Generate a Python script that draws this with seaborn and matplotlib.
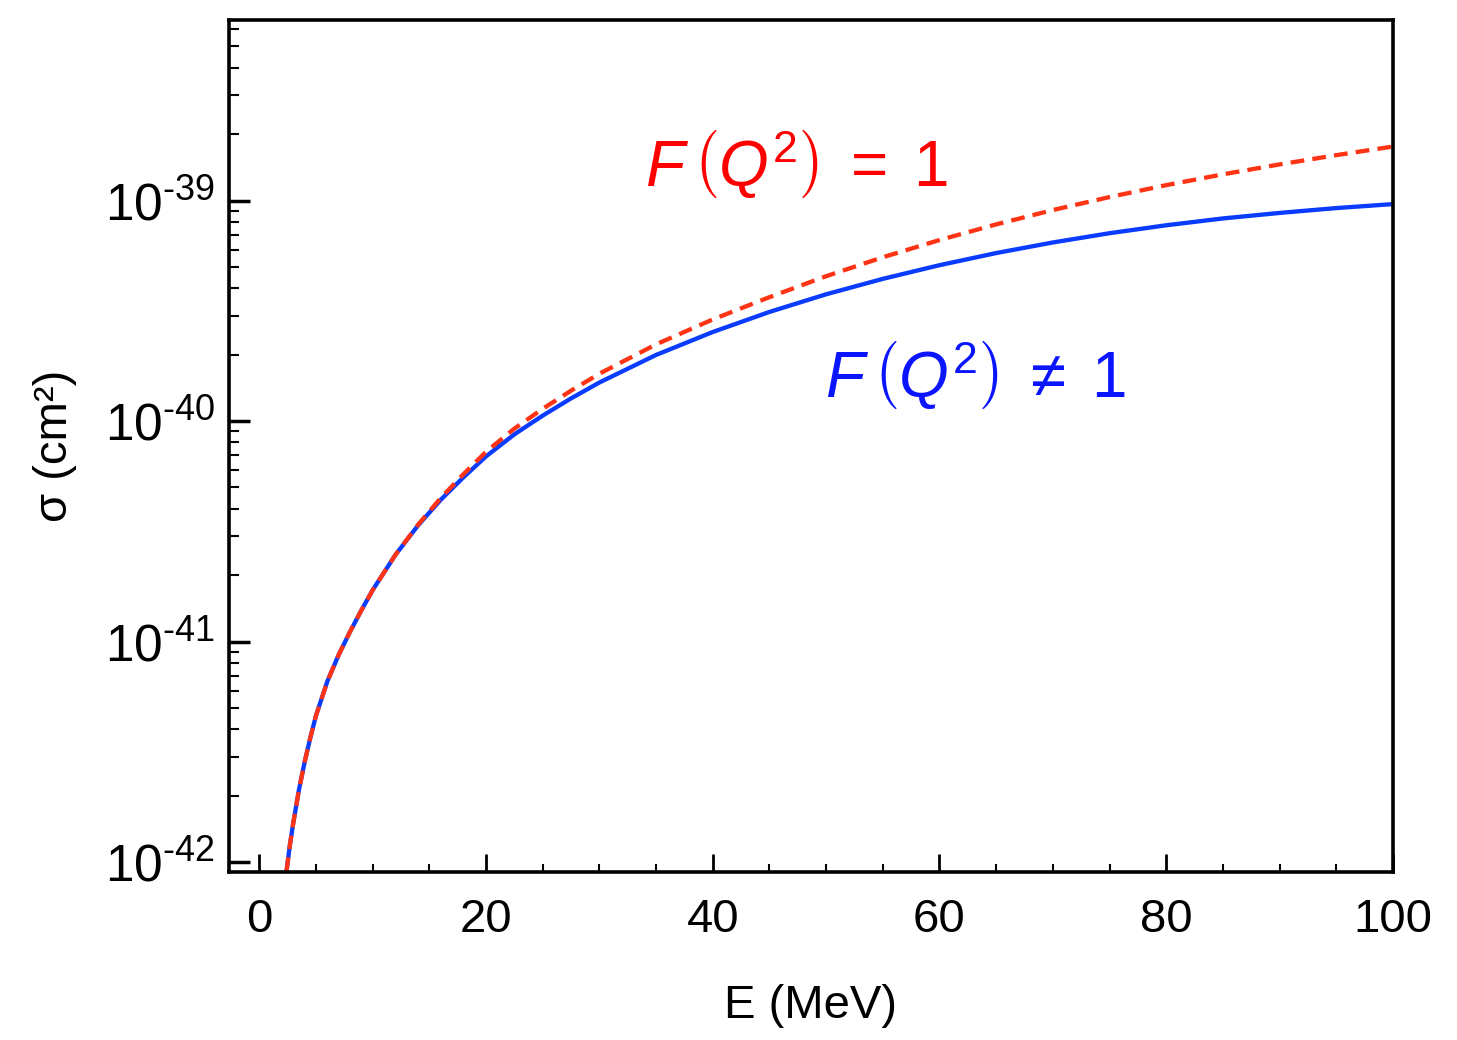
import numpy as np
import pandas as pd
import matplotlib
matplotlib.use('Agg')
import matplotlib.pyplot as plt
import seaborn as sns
from matplotlib.ticker import LogLocator, MultipleLocator, NullFormatter, FuncFormatter, FixedLocator

# neutrino energy (MeV) and log10 of cross section (cm^2)
energy = [2.4, 2.7, 3, 3.5, 4, 4.5, 5, 6, 7, 8, 9, 10, 12, 14, 16, 18, 20, 22.5,
          25, 27.5, 30, 35, 40, 45, 50, 55, 60, 65, 70, 75, 80, 85, 90, 95, 100]
# with nuclear form factor, F(Q^2) != 1
log_sigma_ff = [-42.04, -41.92, -41.82, -41.67, -41.545, -41.435, -41.335, -41.18,
                -41.06, -40.955, -40.858, -40.766, -40.607, -40.473, -40.357,
                -40.255, -40.16, -40.06, -39.975, -39.897, -39.825, -39.70,
                -39.596, -39.505, -39.425, -39.355, -39.293, -39.238, -39.19,
                -39.148, -39.112, -39.081, -39.056, -39.034, -39.016]
# without form factor, F(Q^2) = 1
log_sigma_noff = [-42.04, -41.92, -41.82, -41.67, -41.545, -41.435, -41.335, -41.18,
                  -41.06, -40.955, -40.858, -40.766, -40.607, -40.47, -40.349,
                  -40.241, -40.139, -40.034, -39.944, -39.862, -39.785, -39.652,
                  -39.539, -39.438, -39.343, -39.257, -39.179, -39.108, -39.043,
                  -38.984, -38.93, -38.881, -38.836, -38.794, -38.755]

y_decades = [-42, -41, -40, -39]

label_ff = r'$F\,\left(Q^2\right)\;\neq\;1$'
label_noff = r'$F\,\left(Q^2\right)\;=\;1$'

df = pd.concat([
    pd.DataFrame({'E': energy, 'sigma': 10.0 ** np.array(log_sigma_ff), 'case': 'ff'}),
    pd.DataFrame({'E': energy, 'sigma': 10.0 ** np.array(log_sigma_noff), 'case': 'noff'}),
], ignore_index=True)

sns.set_theme(style='white')
plt.rcParams['font.family'] = ['Liberation Sans', 'DejaVu Sans']
plt.rcParams['mathtext.fontset'] = 'custom'
plt.rcParams['mathtext.rm'] = 'Liberation Sans'
plt.rcParams['mathtext.it'] = 'Liberation Sans:italic'
plt.rcParams['mathtext.bf'] = 'Liberation Sans:bold'

fig = plt.figure(figsize=(14.57, 10.4), dpi=100)
ax = fig.add_axes([0.157, 0.1615, 0.799, 0.8195])

sns.lineplot(data=df, x='E', y='sigma', hue='case', style='case',
             palette={'ff': '#0a3cff', 'noff': '#ff3414'},
             dashes={'ff': '', 'noff': (3.2, 1.9)},
             linewidth=3.1, legend=False, ax=ax, sort=False)

ax.set_yscale('log')
ax.set_xlim(-2.7, 100)
ax.set_ylim(10 ** -42.045, 10 ** -38.18)

ax.xaxis.set_major_locator(MultipleLocator(20))
ax.xaxis.set_minor_locator(MultipleLocator(5))
ax.yaxis.set_major_locator(FixedLocator([10.0 ** d for d in y_decades]))
ax.yaxis.set_minor_locator(LogLocator(base=10, subs=np.arange(2, 10), numticks=20))
ax.yaxis.set_minor_formatter(NullFormatter())
ax.yaxis.set_major_formatter(
    FuncFormatter(lambda v, p: r'10$^{\text{%d}}$' % int(round(np.log10(v)))))

ax.tick_params(axis='both', which='both', direction='in', top=False, right=False,
               bottom=True, left=True, labelsize=34, colors='black')
ax.tick_params(axis='y', which='major', labelsize=37)
ax.tick_params(axis='x', which='major', length=13, width=2, pad=19)
ax.tick_params(axis='x', which='minor', length=6, width=1.5)
ax.tick_params(axis='y', which='major', length=15, width=2.5, pad=10)
ax.tick_params(axis='y', which='minor', length=7, width=1.5)

for s in ax.spines.values():
    s.set_linewidth(2.6)
    s.set_color('black')

ax.set_xlabel('E (MeV)', fontsize=34, labelpad=30, color='black')
ax.set_ylabel('σ (cm²)', fontsize=34, labelpad=20, color='black')

ax.text(34.0, 10 ** -38.936, label_noff, color='#ff0000', fontsize=46, ha='left', va='baseline')
ax.text(49.9, 10 ** -39.893, label_ff, color='#0a14ff', fontsize=46, ha='left', va='baseline')

fig.savefig('out.png', dpi=100)
